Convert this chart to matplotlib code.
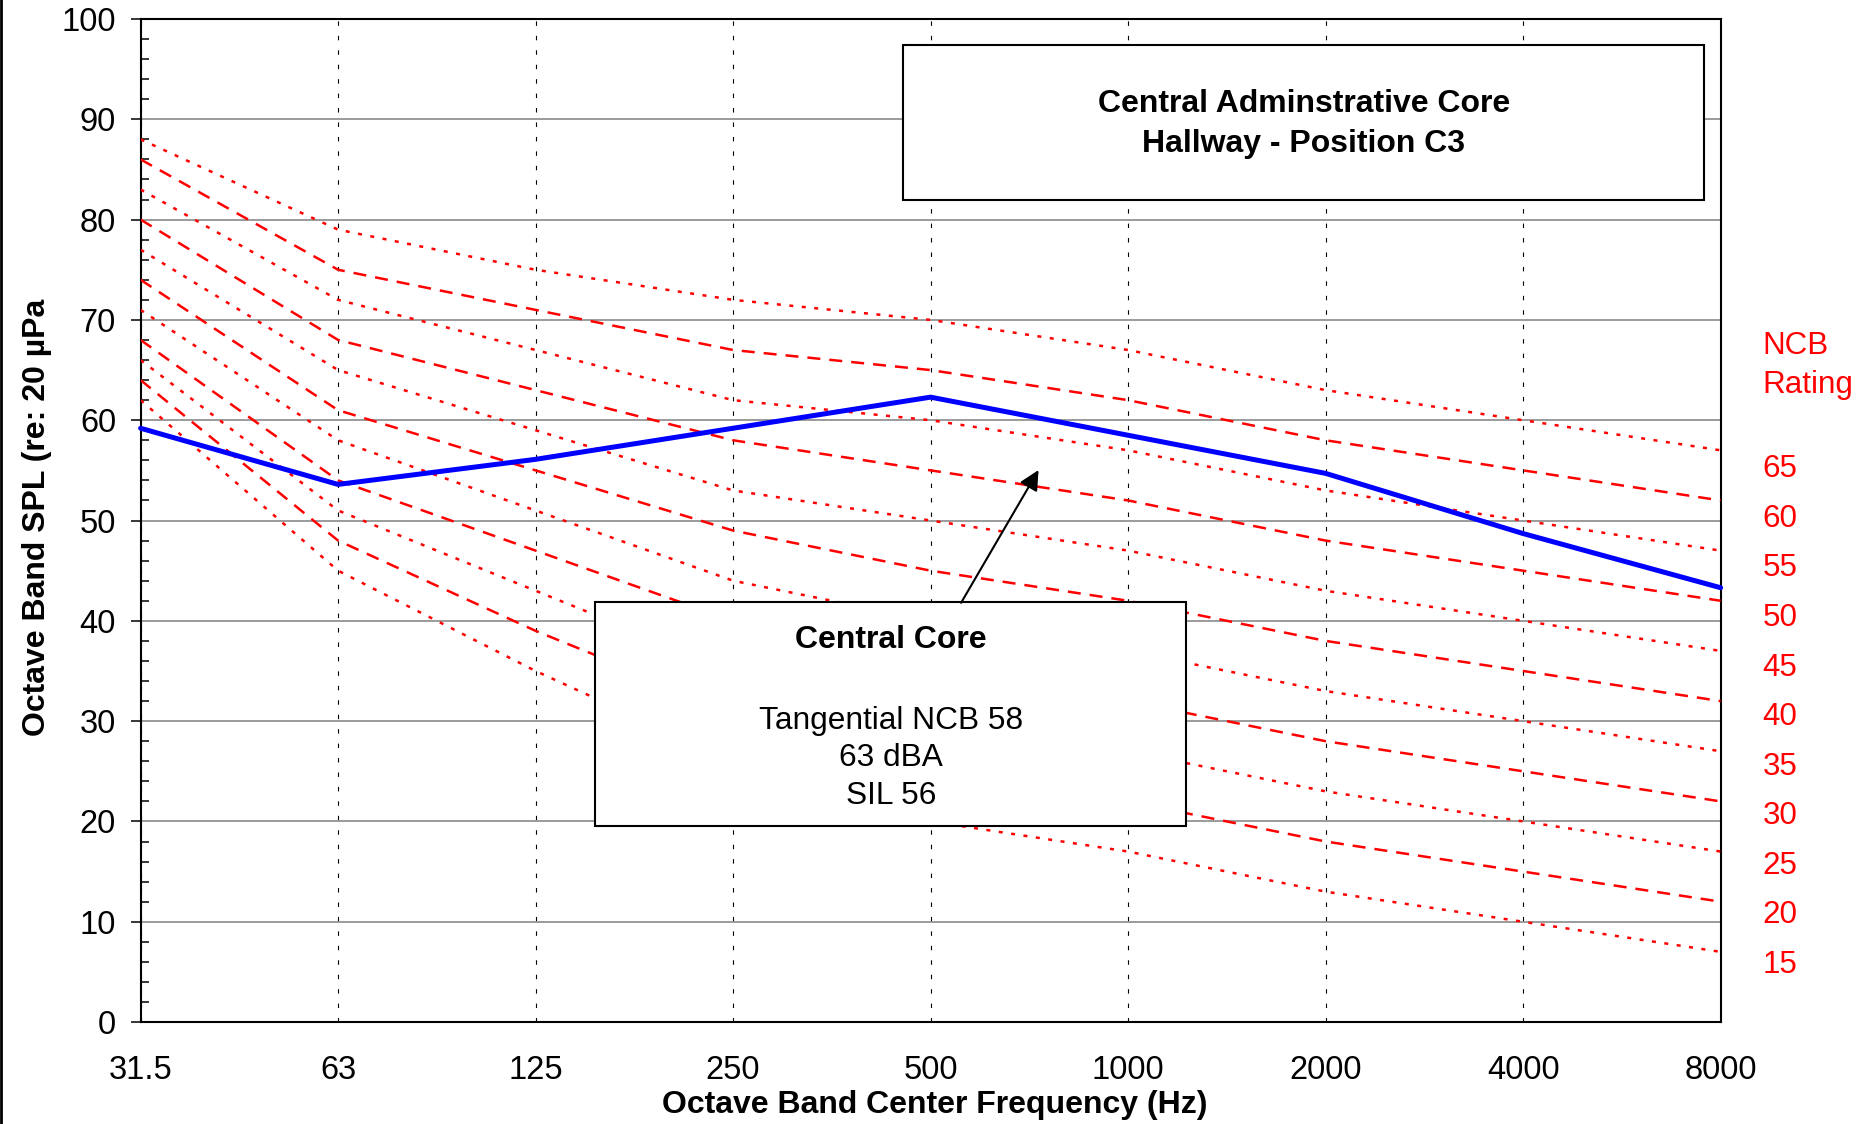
import numpy as np
import matplotlib.pyplot as plt
from matplotlib.lines import Line2D
from matplotlib.patches import Rectangle
from matplotlib.ticker import MultipleLocator
import matplotlib.transforms as mtransforms

plt.rcParams['font.family'] = ['Liberation Sans', 'DejaVu Sans']

# octave bands (category axis)
freqs = ['31.5', '63', '125', '250', '500', '1000', '2000', '4000', '8000']

# measured spectrum, hallway position C3
measured = [59.2, 53.6, 56.1, 59.2, 62.3, 58.5, 54.7, 48.7, 43.3]

# NCB reference curves (dB)
ncb_65 = [88, 79, 75, 72, 70, 67, 63, 60, 57]
ncb_60 = [86, 75, 71, 67, 65, 62, 58, 55, 52]
ncb_55 = [83, 72, 67, 62, 60, 57, 53, 50, 47]
ncb_50 = [80, 68, 63, 58, 55, 52, 48, 45, 42]
ncb_45 = [77, 65, 59, 53, 50, 47, 43, 40, 37]
ncb_40 = [74, 61, 55, 49, 45, 42, 38, 35, 32]
ncb_35 = [71, 58, 51, 44, 40, 37, 33, 30, 27]
ncb_30 = [68, 54, 47, 40, 35, 32, 28, 25, 22]
ncb_25 = [66, 51, 43, 35, 30, 27, 23, 20, 17]
ncb_20 = [64, 48, 39, 31, 25, 22, 18, 15, 12]
ncb_15 = [62, 45, 35, 26, 20, 17, 13, 10, 7]

ncb_ratings = [65, 60, 55, 50, 45, 40, 35, 30, 25, 20, 15]
ncb_curves = [ncb_65, ncb_60, ncb_55, ncb_50, ncb_45, ncb_40,
              ncb_35, ncb_30, ncb_25, ncb_20, ncb_15]

x = np.arange(len(freqs))

fig = plt.figure(figsize=(18.67, 11.24), dpi=100)
ax = fig.add_axes([0.0753, 0.0907, 0.8463, 0.8924])

# NCB curves: odd fives dotted, tens dashed
for rating, curve in zip(ncb_ratings, ncb_curves):
    if rating % 10 == 5:
        ls = (0, (1.6, 3.4))
    else:
        ls = (0, (5.2, 3.6))
    ax.plot(x, curve, color='#FF0000', lw=1.8, linestyle=ls, zorder=3)

ax.plot(x, measured, color='#0000FF', lw=3.6, zorder=4,
        solid_capstyle='round', clip_on=False)

ax.set_xlim(0, len(freqs) - 1)
ax.set_ylim(0, 100)
ax.set_xticks(x)
ax.set_xticklabels(freqs)
ax.yaxis.set_major_locator(MultipleLocator(10))
ax.yaxis.set_minor_locator(MultipleLocator(2))

ax.grid(axis='y', color='#808080', lw=1.1, zorder=0)
ax.grid(axis='x', color='black', lw=0.8, linestyle=(0, (4, 9)), zorder=0)
ax.set_axisbelow(True)

ax.tick_params(axis='x', length=0, pad=24, labelsize=23.5)
ax.tick_params(axis='y', which='major', direction='out', length=7.2,
               width=1.1, pad=10.5, labelsize=23.5)
ax.tick_params(axis='y', which='minor', direction='in', length=5.8, width=1.1)
for s in ax.spines.values():
    s.set_linewidth(1.5)
    s.set_color('black')

# title box
ax.add_patch(Rectangle((0.4826, 0.8195), 0.507, 0.1546, transform=ax.transAxes,
                       facecolor='white', edgecolor='black', lw=1.5, zorder=5))
ax.text(0.7361, 0.9149, 'Central Adminstrative Core', transform=ax.transAxes,
        ha='center', va='center', fontsize=23, fontweight='bold', zorder=6)
ax.text(0.7361, 0.875, 'Hallway - Position C3', transform=ax.transAxes,
        ha='center', va='center', fontsize=23, fontweight='bold', zorder=6)

# result box with arrow
ax.annotate('', xy=(0.5683, 0.5503), xytext=(0.5193, 0.4180),
            xycoords='axes fraction', textcoords='axes fraction',
            arrowprops=dict(arrowstyle='-|>', color='black', lw=1.5,
                            mutation_scale=30, shrinkA=0, shrinkB=0),
            zorder=6)
ax.add_patch(Rectangle((0.2877, 0.1954), 0.374, 0.2229, transform=ax.transAxes,
                       facecolor='white', edgecolor='black', lw=1.5, zorder=5))
ax.text(0.475, 0.3806, 'Central Core', transform=ax.transAxes, ha='center',
        va='center', fontsize=23, fontweight='bold', zorder=6)
ax.text(0.475, 0.3006, 'Tangential NCB 58', transform=ax.transAxes,
        ha='center', va='center', fontsize=22.8, zorder=6)
ax.text(0.475, 0.2636, '63 dBA', transform=ax.transAxes,
        ha='center', va='center', fontsize=22.8, zorder=6)
ax.text(0.475, 0.2256, 'SIL 56', transform=ax.transAxes,
        ha='center', va='center', fontsize=22.8, zorder=6)

# NCB rating labels on the right
ax.text(1.0263, 0.6736, 'NCB', transform=ax.transAxes, color='#FF0000',
        ha='left', va='center', fontsize=22.6)
ax.text(1.0263, 0.6356, 'Rating', transform=ax.transAxes, color='#FF0000',
        ha='left', va='center', fontsize=22.6)
trans = mtransforms.blended_transform_factory(ax.transAxes, ax.transData)
for i, r in enumerate(ncb_ratings):
    ax.text(1.0265, 55.1 - 4.94 * i, str(r), transform=trans, color='#FF0000',
            ha='left', va='center', fontsize=22.6)

fig.text(935 / 1867, 1 - 1105 / 1124, 'Octave Band Center Frequency (Hz)',
         ha='center', va='center', fontsize=23, fontweight='bold')
fig.text(36.6 / 1867, 1 - 517 / 1124, 'Octave Band SPL (re: 20 µPa',
         ha='center', va='center', rotation=90, fontsize=23, fontweight='bold')

fig.add_artist(Line2D([0.0008, 0.0008], [0, 1], color='black', lw=2,
                      transform=fig.transFigure))

fig.savefig('out.png', dpi=100)
